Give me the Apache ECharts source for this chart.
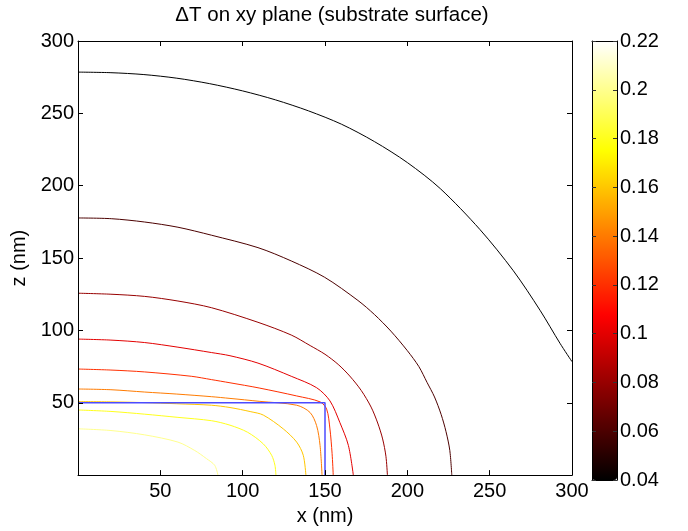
<!DOCTYPE html>
<html>
<head>
<meta charset="utf-8">
<title>contour</title>
<script src="https://cdn.jsdelivr.net/npm/echarts@6/dist/echarts.min.js"></script>
<style>
    html, body { margin: 0; padding: 0; background: #fff; }
    #main { width: 688px; height: 531px; }
</style>
</head>
<body>
<div id="main"></div>
<script>
// contour levels (deltaT) and colorbar range
var levels = [0.04, 0.06, 0.08, 0.10, 0.12, 0.14, 0.16, 0.18, 0.20];
var cMin = 0.04;
var cMax = 0.22;
var cbarTicks = [0.04, 0.06, 0.08, 0.10, 0.12, 0.14, 0.16, 0.18, 0.20, 0.22];
var axisTicks = [50, 100, 150, 200, 250, 300];

// contour lines, [x (nm), z (nm)]
var c004 = [[0, 278.5], [20, 278.1], [40, 276.8], [60, 274.3], [80, 270.5], [100, 265.5], [120, 259.3],
    [140, 251.7], [160, 242.5], [180, 230.5], [200, 216], [220, 198], [244.1, 169.7],
    [264.4, 141.2], [280.6, 113.9], [292.7, 91.1], [300, 78.4]];
var c006 = [[0, 177.7], [20.2, 177.2], [40.5, 174.9], [60.7, 171.3], [81, 165.8], [109.3, 157.2],
    [129.5, 148], [149.8, 136.7], [170, 120.7], [180, 111], [190, 99.5], [200, 86], [207, 75],
    [212, 64], [216.5, 54], [220.5, 42], [223.5, 30], [225.8, 17], [227, 0]];
var c008 = [[0, 125.7], [20, 125], [40.5, 123.5], [60.7, 120.3], [81, 115.7], [109.3, 105.6],
    [129.5, 96.8], [141, 89.5], [150, 83.5], [158, 76.5], [165, 68.5], [172, 58.5], [178, 47],
    [182, 36], [185, 25], [187, 13], [187.9, 0]];
var c010 = [[0, 94], [20, 93.3], [40.5, 91.6], [60.7, 88.4], [81, 84.7], [92.3, 82.5], [109.3, 77.4],
    [129.5, 68.3], [144.9, 60.4], [153, 51.3], [159, 36.4], [164.2, 20.5], [167.2, 0]];
var c012 = [[0, 73.3], [20, 72.6], [40.5, 71.3], [68.8, 68.3], [81, 66], [92.3, 63.8], [110, 60.2],
    [132.8, 54.7], [147, 50.6], [151, 45.6], [153, 31.9], [154.3, 15], [155, 0]];
var c014 = [[0, 59.5], [20, 59], [40.5, 57.4], [60, 56], [81, 54.2], [92.3, 53], [110, 51],
    [132.8, 48.3], [140.9, 43.3], [144.9, 34.2], [147, 20.5], [148.2, 0]];
var c016 = [[0, 50.8], [20, 50.6], [40.5, 50.1], [60, 49.3], [81, 48.3], [92.3, 46.7], [105, 43.8],
    [112.5, 41.5], [124.7, 31.9], [132.8, 22.8], [136.8, 13.7], [138.4, 0]];
var c018 = [[0, 45], [20, 44], [40.5, 42.1], [60.7, 39.9], [81, 37.6], [92.3, 34.5], [103, 29.6],
    [112.5, 21.6], [117.6, 13.7], [119.6, 6.8], [120.2, 0]];
var c020 = [[0, 32], [20, 30.8], [40.5, 27.8], [60.7, 22.8], [70.9, 17], [78, 11.4], [83, 6.8], [85, 0]];
var contours = [c004, c006, c008, c010, c012, c014, c016, c018, c020];

// blue outline of the heated block
var blockOutline = [[0, 50], [150, 50], [150, 0]];

// matlab 'hot' colormap
function hotColor(v) {
    var t = (v - cMin) / (cMax - cMin);
    var clamp = function (a) { return Math.max(0, Math.min(1, a)); };
    var r = clamp(t / 0.375);
    var g = clamp((t - 0.375) / 0.375);
    var b = clamp((t - 0.75) / 0.25);
    return 'rgb(' + Math.round(r * 255) + ',' + Math.round(g * 255) + ',' + Math.round(b * 255) + ')';
}

var hotStops = [];
for (var i = 0; i <= 16; i++) {
    hotStops.push(hotColor(cMin + (cMax - cMin) * i / 16));
}

var FONT = 'Liberation Sans, Arial, Helvetica, sans-serif';
var FS = 20;

var series = [];
contours.forEach(function (line, idx) {
    series.push({
        type: 'line',
        xAxisIndex: 0,
        yAxisIndex: 0,
        data: line,
        symbol: 'none',
        smooth: 0.3,
        silent: true,
        lineStyle: { color: hotColor(levels[idx]), width: 1 },
        z: 3
    });
});
series.push({
    type: 'line',
    xAxisIndex: 0,
    yAxisIndex: 0,
    data: blockOutline,
    symbol: 'none',
    silent: true,
    lineStyle: { color: '#4b4bff', width: 1.5 },
    z: 4
});

function mainAxis(pos, showLabel, extra) {
    var ax = {
        type: 'value',
        gridIndex: 0,
        position: pos,
        min: 0,
        max: 300,
        interval: 50,
        axisLine: { onZero: false, lineStyle: { color: '#000', width: 1 } },
        axisTick: { inside: true, length: 5, lineStyle: { color: '#000' } },
        axisLabel: {
            show: showLabel,
            showMinLabel: false,
            color: '#000',
            fontSize: FS,
            fontFamily: FONT,
            margin: pos === 'bottom' ? 6 : 4
        },
        splitLine: { show: false },
        z: 5
    };
    return Object.assign(ax, extra || {});
}

function cbarFrame(pos) {
    return {
        type: 'value',
        gridIndex: 1,
        position: pos,
        min: 0,
        max: 1,
        axisLine: { onZero: false, lineStyle: { color: '#000', width: 1 } },
        axisTick: { show: false },
        axisLabel: { show: false },
        splitLine: { show: false },
        z: 10
    };
}

function cbarAxis(pos, showLabel) {
    return {
        type: 'value',
        gridIndex: 1,
        position: pos,
        min: cbarTicks[0],
        max: cbarTicks[cbarTicks.length - 1],
        interval: 0.02,
        axisLine: { onZero: false, lineStyle: { color: '#000', width: 1 } },
        axisTick: { inside: true, length: 4, lineStyle: { color: '#333' } },
        axisLabel: {
            show: showLabel,
            color: '#000',
            fontSize: FS,
            fontFamily: FONT,
            margin: 3,
            formatter: function (v) { return String(+v.toFixed(2)); }
        },
        splitLine: { show: false },
        z: 10
    };
}

var chart = echarts.init(document.getElementById('main'));
chart.setOption({
    animation: false,
    backgroundColor: '#fff',
    textStyle: { fontFamily: FONT },
    title: {
        text: '\u0394T on xy plane (substrate surface)',
        left: 327,
        top: 0,
        textAlign: 'center',
        textStyle: { fontSize: 20.5, fontWeight: 'normal', color: '#000', fontFamily: FONT }
    },
    grid: [
        { left: 78, top: 41, width: 494, height: 439, show: false },
        { left: 592, top: 41, width: 25, height: 439, show: false }
    ],
    xAxis: [
        mainAxis('bottom', true, {
            name: 'x (nm)', nameLocation: 'middle', nameGap: 27,
            nameTextStyle: { color: '#000', fontSize: FS, fontFamily: FONT }
        }),
        mainAxis('top', false),
        cbarFrame('bottom'),
        cbarFrame('top')
    ],
    yAxis: [
        mainAxis('left', true, {
            name: 'z (nm)', nameLocation: 'middle', nameGap: 46,
            nameTextStyle: { color: '#000', fontSize: FS, fontFamily: FONT }
        }),
        mainAxis('right', false),
        cbarAxis('right', true),
        cbarAxis('left', false)
    ],
    visualMap: {
        type: 'continuous',
        seriesIndex: [],
        min: cMin,
        max: cMax,
        calculable: false,
        orient: 'vertical',
        left: 592,
        top: 41,
        padding: 0,
        itemWidth: 25,
        itemHeight: 439,
        inRange: { color: hotStops }
    },
    series: series
});
</script>
</body>
</html>
